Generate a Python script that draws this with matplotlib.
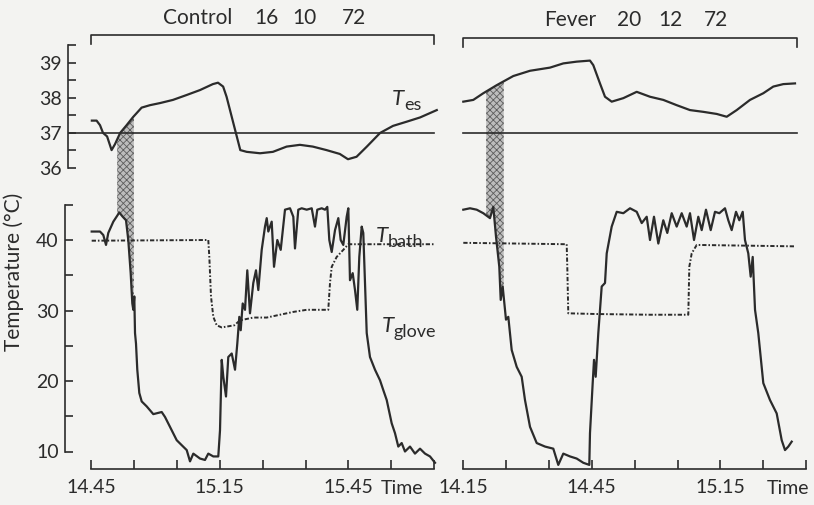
import numpy as np
import matplotlib
matplotlib.use('Agg')
import matplotlib.pyplot as plt
from matplotlib.ticker import FixedLocator, FixedFormatter

plt.rcParams['font.family'] = ['Lato', 'DejaVu Sans']
plt.rcParams['hatch.linewidth'] = 0.6

# ---------------- data (time in minutes after 14.00) ----------------
# Control panel
ctrl_tes_t = [45.2, 46.3, 47.1, 47.8, 48.75, 49.8, 50.6, 51.8, 53.3, 54.8, 56.8, 58.75, 61.1, 64.1,
              67.3, 70.4, 73.4, 74.6, 75.8, 76.6, 77.8, 79.0, 79.8, 81.3, 84.4, 87.4, 90.6, 93.7,
              96.7, 99.9, 103.0, 104.9, 106.9, 109.3, 112.4, 115.4, 118.6, 121.7, 125.6]
ctrl_tes_v = [37.35, 37.35, 37.22, 37.0, 36.9, 36.51, 36.68, 37.0, 37.22, 37.45, 37.72, 37.79, 37.85, 37.94,
              38.08, 38.22, 38.39, 38.43, 38.32, 38.03, 37.46, 36.89, 36.51, 36.46, 36.42, 36.46, 36.61, 36.66,
              36.61, 36.51, 36.4, 36.25, 36.32, 36.61, 37.0, 37.2, 37.32, 37.44, 37.65]

ctrl_glove_t = [45.16, 47.1, 47.87, 48.5, 49.03, 50.2, 51.6, 52.39, 53.16, 53.69, 54.25, 54.63, 54.86, 55.09,
                55.26, 55.49, 55.79, 56.26, 56.82, 57.98, 59.52, 61.48, 62.25, 63.41, 64.98, 66.14, 67.31,
                68.08, 68.85, 70.41, 71.57, 72.34, 73.51, 74.67, 75.07, 75.47, 75.84, 76.47, 77.0, 77.8,
                78.57, 79.1, 79.57, 79.9, 80.36, 80.9, 81.43, 82.06, 82.83, 83.46, 84.0, 84.79, 85.56,
                85.96, 86.33, 87.12, 87.66, 88.43, 89.22, 90.22, 91.39, 92.16, 92.55, 93.32, 94.11, 95.28,
                96.45, 97.21, 97.75, 98.78, 99.55, 100.08, 100.55, 101.11, 101.88, 102.65, 103.2, 103.81,
                104.6, 104.98, 105.37, 106.0, 106.54, 107.07, 107.54, 108.1, 108.47, 109.27, 110.03, 111.2,
                112.37, 113.14, 113.93, 115.09, 115.86, 116.63, 117.42, 118.19, 119.36, 120.52, 121.69,
                122.86, 124.02, 125.19]
ctrl_glove_v = [41.2, 41.2, 40.7, 39.3, 41.0, 42.6, 43.9, 43.3, 42.8, 40.0, 35.3, 31.0, 30.1, 32.0,
                26.8, 25.3, 21.6, 18.3, 17.1, 16.4, 15.3, 15.6, 14.9, 13.5, 11.6, 10.9, 10.2,
                8.6, 9.7, 9.0, 8.8, 9.7, 9.3, 9.3, 13.0, 23.0, 20.6, 17.8, 23.4, 23.9,
                21.6, 25.3, 29.1, 27.2, 31.0, 30.1, 35.7, 29.6, 33.9, 35.7, 32.9, 38.6, 41.9,
                43.1, 41.2, 42.6, 36.2, 40.0, 38.6, 44.3, 44.5, 43.3, 38.8, 44.3, 44.5, 44.3,
                44.5, 41.9, 44.3, 44.5, 44.3, 44.7, 40.0, 38.3, 41.4, 43.1, 40.0, 39.3,
                43.3, 44.5, 34.3, 35.3, 32.9, 30.1, 37.6, 41.9, 41.0, 26.8, 23.4, 21.6,
                20.1, 18.7, 17.3, 14.0, 12.6, 10.7, 11.2, 10.0, 10.7, 9.7, 10.4,
                9.7, 9.3, 8.4]

ctrl_bath_t = [45.16, 72.34, 72.58, 72.97, 73.51, 74.3, 75.47, 78.4, 79.73, 82.83, 85.96, 89.06, 92.16,
               95.28, 100.31, 100.71, 101.11, 102.27, 103.81, 104.98, 125.19]
ctrl_bath_v = [39.9, 40.0, 37.6, 32.0, 29.1, 27.9, 27.6, 27.9, 28.6, 29.0, 29.0, 29.4, 29.8,
               30.1, 30.1, 33.9, 36.2, 37.6, 38.6, 39.4, 39.4]

# Fever panel
fev_tes_t = [15.07, 17.4, 19.73, 22.86, 26.72, 30.62, 35.28, 38.38, 41.5, 44.6, 45.37, 46.93, 48.1, 49.66,
             52.37, 55.49, 58.59, 61.69, 64.81, 67.91, 71.01, 74.14, 76.47, 78.8, 81.9, 85.0, 87.33,
             89.66, 92.39]
fev_tes_v = [37.89, 37.94, 38.13, 38.36, 38.62, 38.77, 38.86, 38.98, 39.03, 39.06, 38.93, 38.41, 38.03, 37.89,
             37.99, 38.17, 38.03, 37.94, 37.79, 37.65, 37.6, 37.54, 37.46, 37.65, 37.94, 38.13, 38.32,
             38.39, 38.41]

fev_glove_t = [15.07, 16.63, 18.19, 19.73, 21.29, 22.06, 22.69, 23.46, 23.79, 24.25, 25.02, 25.56, 26.35,
               27.52, 28.68, 29.45, 30.62, 32.18, 34.11, 36.05, 37.21, 38.38, 39.94, 41.5, 43.04, 44.44,
               44.6, 45.23, 45.54, 45.93, 46.54, 47.33, 48.1, 48.5, 49.66, 50.83, 52.37, 53.93, 55.49,
               56.66, 57.82, 58.59, 59.52, 60.53, 61.69, 62.62, 63.65, 64.81, 65.98, 67.14, 67.91, 68.85,
               69.85, 70.64, 71.64, 72.74, 73.74, 74.75, 76.07, 76.84, 77.63, 78.64, 79.41, 80.2, 80.73,
               81.5, 82.06, 82.53, 83.07, 83.83, 85.0, 86.56, 88.12, 89.29, 90.06, 90.83, 91.62]
fev_glove_v = [44.3, 44.5, 44.3, 43.8, 43.1, 44.7, 40.5, 36.2, 31.5, 33.4, 28.7, 29.1, 24.4,
               22.0, 20.6, 17.3, 13.5, 11.2, 10.7, 10.4, 8.1, 9.7, 9.3, 9.0, 8.4, 8.1,
               12.6, 19.7, 23.0, 20.6, 26.8, 33.4, 33.9, 38.1, 41.9, 44.0, 43.8, 44.5, 44.0,
               42.4, 43.3, 40.0, 43.3, 39.5, 42.8, 41.0, 43.8, 41.9, 43.8, 41.9, 43.8, 40.0,
               43.3, 41.4, 44.3, 41.4, 44.0, 43.8, 44.5, 42.8, 41.4, 44.0, 42.8, 44.0, 40.0,
               38.1, 34.8, 37.6, 30.1, 26.8, 19.7, 17.3, 15.4, 11.6, 10.2, 10.7, 11.4]

fev_bath_t = [15.07, 39.17, 39.31, 39.54, 46.17, 58.59, 67.52, 67.75, 68.31, 69.48, 92.39]
fev_bath_v = [39.6, 39.4, 36.2, 29.6, 29.5, 29.4, 29.4, 36.2, 38.1, 39.3, 39.1]

# shaded intervals (minutes after 14.00)
ctrl_shade = [51.1, 55.0]
fev_shade = [20.4, 24.5]

# recording periods (brackets) and reference temperature
ctrl_period = [45, 125]
fev_period = [15, 92.8]
ref_temp = 37

ctrl_xticks = [45, 55, 65, 75, 85, 95, 105, 115, 125]
ctrl_xlabels = ['14.45', '', '', '15.15', '', '', '15.45', '', '']
fev_xticks = [15, 25, 35, 45, 55, 65, 75, 85, 95]
fev_xlabels = ['14.15', '', '', '14.45', '', '', '15.15', '', '']

tes_ticks = [36, 37, 38, 39]
tes_minor = [36.5, 37.5, 38.5, 39.5]
glove_ticks = [10, 15, 20, 25, 30, 35, 40, 45]
glove_labels = ['10', '', '20', '', '30', '', '40', '']

ctrl_title = ['Control', '16', '10', '72']
fev_title = ['Fever', '20', '12', '72']

# ---------------- layout helpers ----------------
W, H = 814, 505
BG = '#f3f3f1'
INK = '#2b2b2b'
fig = plt.figure(figsize=(W / 100, H / 100), dpi=100, facecolor=BG)

PXMIN = 4.29     # pixels per minute
TES_PX = 35.1    # pixels per degree (Tes)
GL_PX = 7.05     # pixels per degree (glove)
TICK_FS = 14


def rect(x0, x1, ytop, ybot):
    return [x0 / W, 1 - ybot / H, (x1 - x0) / W, (ybot - ytop) / H]


def xl(x0, x1, px_ref, t_ref):
    return (t_ref + (x0 - px_ref) / PXMIN, t_ref + (x1 - px_ref) / PXMIN)


TOP_Y = (30, 180)
BOT_Y = (180, 469)
tes_lim = (36 + (168 - TOP_Y[1]) / TES_PX, 36 + (168 - TOP_Y[0]) / TES_PX)
gl_lim = (40 - (BOT_Y[1] - 240) / GL_PX, 40 + (240 - BOT_Y[0]) / GL_PX)


def style(ax):
    ax.set_facecolor('none')
    for s in ax.spines.values():
        s.set_visible(False)
        s.set_linewidth(1.2)
        s.set_color(INK)
    ax.tick_params(which='both', direction='in', length=6, width=1.2, color=INK,
                   labelsize=TICK_FS, labelcolor=INK)
    ax.tick_params(axis='x', length=6.5, pad=7)
    ax.tick_params(axis='y', pad=4.5)


def panel(x0, x1, px_ref, t_ref, tes_t, tes_v, gl_t, gl_v, bath_t, bath_v, shade, period,
          xticks, xlabels, with_y, bracket_y):
    xt0 = x0 + (3 if with_y else 0)
    axt = fig.add_axes(rect(xt0, x1, *TOP_Y))
    axb = fig.add_axes(rect(x0, x1, *BOT_Y))
    axt.set_xlim(xl(xt0, x1, px_ref, t_ref))
    axb.set_xlim(xl(x0, x1, px_ref, t_ref))
    axt.set_ylim(tes_lim)
    axb.set_ylim(gl_lim)
    style(axt)
    style(axb)

    # shading between Tes and Tglove
    tt = np.linspace(shade[0], shade[1], 40)
    hatch_kw = dict(facecolor='#bdbdbd', edgecolor='#5e5e5e', hatch='xxxxx', linewidth=0, zorder=1)
    axt.fill_between(tt, np.interp(tt, tes_t, tes_v), tes_lim[0], **hatch_kw)
    axb.fill_between(tt, np.interp(tt, gl_t, gl_v), gl_lim[1], **hatch_kw)

    # reference line and curves
    axt.plot([axt.get_xlim()[0] if with_y else period[0], period[1]], [ref_temp, ref_temp],
             color=INK, lw=1.2, zorder=2)
    axt.plot(tes_t, tes_v, color=INK, lw=1.6, zorder=3)
    axb.plot(bath_t, bath_v, color=INK, lw=1.4, ls=(0, (2.2, 1.0, 0.8, 1.0)), zorder=2)
    axb.plot(gl_t, gl_v, color=INK, lw=1.6, zorder=3)

    # x axis
    axb.spines['bottom'].set_visible(True)
    axb.spines['bottom'].set_bounds(xticks[0], xticks[-1])
    axb.xaxis.set_major_locator(FixedLocator(xticks))
    axb.xaxis.set_major_formatter(FixedFormatter(xlabels))
    axt.set_xticks([])

    if with_y:
        axt.spines['left'].set_visible(True)
        axt.spines['left'].set_bounds(tes_ticks[0], tes_minor[-1])
        axt.yaxis.set_major_locator(FixedLocator(tes_ticks))
        axt.yaxis.set_major_formatter(FixedFormatter([str(v) for v in tes_ticks]))
        axt.yaxis.set_minor_locator(FixedLocator(tes_minor))
        axb.spines['left'].set_visible(True)
        axb.spines['left'].set_bounds(glove_ticks[0], glove_ticks[-1])
        axb.yaxis.set_major_locator(FixedLocator(glove_ticks))
        axb.yaxis.set_major_formatter(FixedFormatter(glove_labels))
    else:
        axt.set_yticks([])
        axb.set_yticks([])

    # bracket over the recording period
    tr = axt.get_xaxis_transform()
    yb = (TOP_Y[1] - bracket_y) / (TOP_Y[1] - TOP_Y[0])
    ye = (TOP_Y[1] - bracket_y - 9) / (TOP_Y[1] - TOP_Y[0])
    axt.plot([period[0], period[0], period[1], period[1]], [ye, yb, yb, ye], transform=tr,
             color=INK, lw=1.2, clip_on=False)
    return axt, axb


panel(65, 445, 91, 45, ctrl_tes_t, ctrl_tes_v, ctrl_glove_t, ctrl_glove_v,
      ctrl_bath_t, ctrl_bath_v, ctrl_shade, ctrl_period, ctrl_xticks, ctrl_xlabels, True, 35)
panel(455, 812, 463, 15, fev_tes_t, fev_tes_v, fev_glove_t, fev_glove_v,
      fev_bath_t, fev_bath_v, fev_shade, fev_period, fev_xticks, fev_xlabels, False, 38)


def ftext(px, py, s, **kw):
    kw.setdefault('color', INK)
    return fig.text(px / W, 1 - py / H, s, **kw)


# titles
for px, s in zip([198, 266, 304, 354], ctrl_title):
    ftext(px, 18, s, ha='center', va='center', fontsize=15)
for px, s in zip([570, 629, 670, 716], fev_title):
    ftext(px, 20, s, ha='center', va='center', fontsize=15)


# curve labels: italic T with subscript
def tlabel(px, py, sub):
    ftext(px, py, 'T', ha='left', va='baseline', fontsize=16, style='italic')
    ftext(px + 12, py + 5, sub, ha='left', va='baseline', fontsize=13)


tlabel(392, 105, 'es')
tlabel(376, 242, 'bath')
tlabel(382, 332, 'glove')

# axis labels
ftext(402, 488, 'Time', ha='center', va='center', fontsize=TICK_FS)
ftext(788, 488, 'Time', ha='center', va='center', fontsize=TICK_FS)
ftext(14, 272, 'Temperature (°C)', ha='center', va='center', rotation=90, fontsize=15)

fig.savefig('out.png', dpi=100, facecolor=BG)
